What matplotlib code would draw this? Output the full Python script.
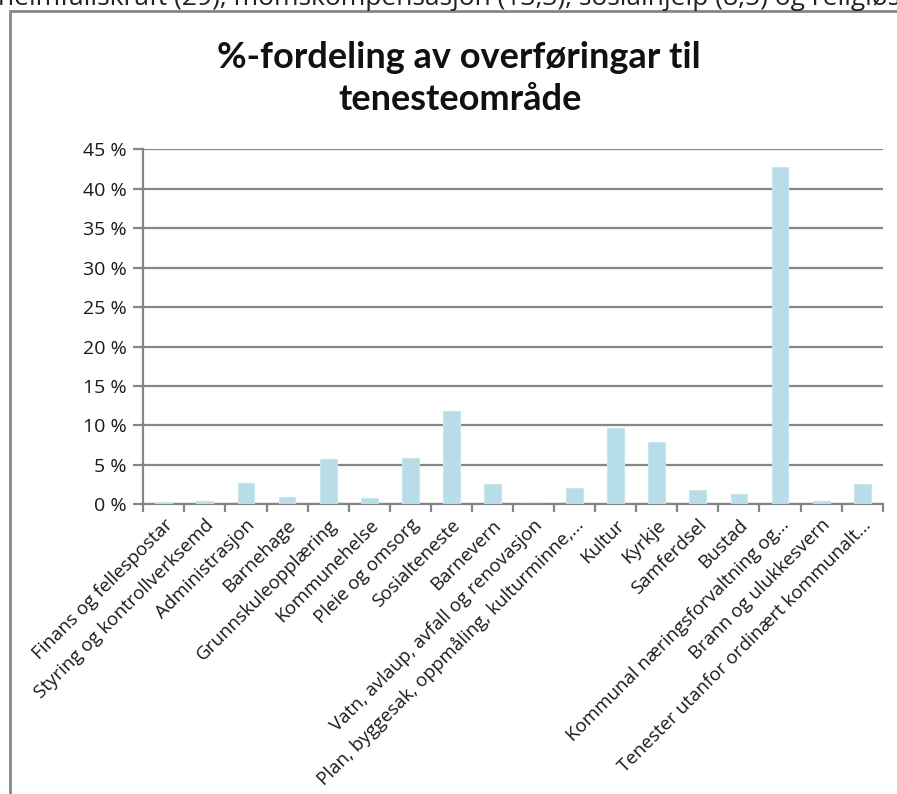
import matplotlib
matplotlib.use("Agg")
import matplotlib.pyplot as plt
from matplotlib.patches import Rectangle
from matplotlib.transforms import ScaledTranslation

categories = [
    "Finans og fellespostar",
    "Styring og kontrollverksemd",
    "Administrasjon",
    "Barnehage",
    "Grunnskuleopplæring",
    "Kommunehelse",
    "Pleie og omsorg",
    "Sosialteneste",
    "Barnevern",
    "Vatn, avlaup, avfall og renovasjon",
    "Plan, byggesak, oppmåling, kulturminne,...",
    "Kultur",
    "Kyrkje",
    "Samferdsel",
    "Bustad",
    "Kommunal næringsforvaltning og...",
    "Brann og ulukkesvern",
    "Tenester utanfor ordinært kommunalt...",
]
values = [0.25, 0.4, 2.75, 0.93, 5.75, 0.8, 5.9, 11.83, 2.62, 0.0,
          2.07, 9.72, 7.9, 1.82, 1.31, 42.76, 0.42, 2.62]
yticks = [0, 5, 10, 15, 20, 25, 30, 35, 40, 45]
title_lines = ["%-fordeling av overføringar til", "tenesteområde"]
top_text = "heimfallskraft (29), momskompensasjon (13,3), sosialhjelp (8,5) og religiøs"

W, H = 897, 794
fig = plt.figure(figsize=(W / 100, H / 100), dpi=100)
fig.patch.set_facecolor("white")

grey = "#868686"
font = "Open Sans"

# outer chart frame (extends beyond right/bottom of the crop)
fig.patches.append(Rectangle((10 / W, -0.05), 1.2, (794 - 11) / H + 0.05,
                             transform=fig.transFigure, fill=False,
                             edgecolor=grey, linewidth=2.0))

# clipped line of text above the chart
fig.text(-2 / W, 1 - 5 / H, top_text, fontsize=19, family=font, color="#222222",
         ha="left", va="baseline")

left, right = 143.3 / W, 882.7 / W
bottom, top = (H - 504.3) / H, (H - 149.3) / H
ax = fig.add_axes([left, bottom, right - left, top - bottom])

x = list(range(len(categories)))
ax.bar(x, values, width=0.41, color="#B7DDE8", edgecolor="#C8E5EE",
       linewidth=0.8, zorder=3)

ax.set_xlim(-0.5, len(categories) - 0.5)
ax.set_ylim(0, 45)
ax.set_yticks(yticks)
ax.set_yticklabels([f"{v} %" for v in yticks], family=font, fontsize=14,
                   color="#1a1a1a")
ax.yaxis.grid(True, color=grey, linewidth=1.6, zorder=0)
ax.set_axisbelow(True)

for s in ["top", "right"]:
    ax.spines[s].set_visible(False)
ax.spines["left"].set_color(grey)
ax.spines["left"].set_linewidth(1.6)
ax.spines["bottom"].set_color(grey)
ax.spines["bottom"].set_linewidth(1.6)

ax.tick_params(axis="y", length=7, width=1.6, color=grey, pad=5)

# category boundary ticks
ax.set_xticks([i - 0.5 for i in range(len(categories) + 1)])
ax.set_xticklabels([])
ax.tick_params(axis="x", which="major", length=6, width=1.6, color=grey)
ax.set_xticks(x, minor=True)
labels = ax.set_xticklabels(categories, minor=True, rotation=45, ha="right",
                            va="center", rotation_mode="anchor", family=font,
                            fontsize=13.5, color="#1a1a1a")
ax.tick_params(axis="x", which="minor", length=0, pad=13)
offset = ScaledTranslation(6 / 100, 0, fig.dpi_scale_trans)
for lab in labels:
    lab.set_transform(lab.get_transform() + offset)

fig.text(459 / W, 1 - 57 / H, title_lines[0], fontsize=26, fontweight="bold",
         family="Lato", ha="center", va="center", color="#111111")
fig.text(460 / W, 1 - 100 / H, title_lines[1], fontsize=26, fontweight="bold",
         family="Lato", ha="center", va="center", color="#111111")

fig.savefig("out.png", dpi=100, facecolor="white")
